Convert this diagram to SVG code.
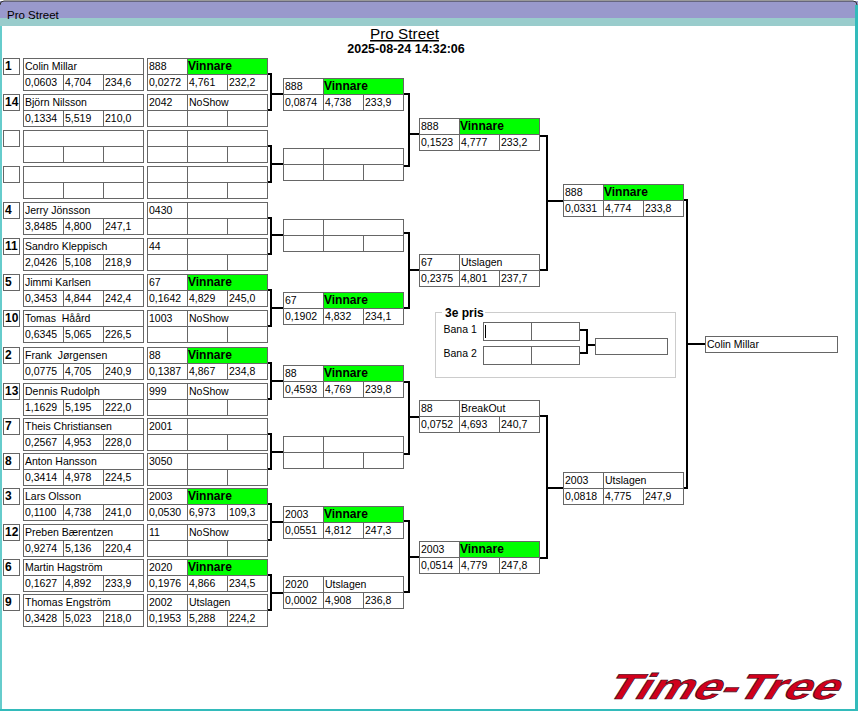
<svg xmlns="http://www.w3.org/2000/svg" width="858" height="711" viewBox="0 0 858 711">
<style>
text{font-family:"Liberation Sans",Arial,sans-serif;font-size:10.5px;fill:#000}
.b{font-weight:bold;font-size:12px}
.line{fill:none;stroke:#666;stroke-width:1}
.box{fill:none;stroke:#666;stroke-width:1}
.g{fill:#0f0}
#conn path{fill:none;stroke:#000;stroke-width:2}
</style>
<defs>
<g id="cm"><rect class="box" x=".5" y=".5" width="120" height="32"/><path class="line" d="M.5 16.5H120.5M40.5 16.5V32.5M80.5 16.5V32.5"/></g>
<g id="rs"><rect class="box" x=".5" y=".5" width="120" height="32"/><path class="line" d="M.5 16.5H120.5M40.5 .5V32.5M80.5 16.5V32.5"/></g>
<rect id="sd" class="box" x=".5" y=".5" width="16" height="16"/>
<rect id="gr" class="g" x="41" y="1" width="79" height="15"/>
</defs>
<rect width="858" height="711" fill="#fff"/>
<g id="window">
<rect x="0" y="1" width="858" height="17" fill="#9999cc"/>
<rect x="0" y="18" width="858" height="8" fill="#99cccc"/>
<path d="M0 5Q0 1 4 1H853Q857 1 857 5" fill="none" stroke="#333" stroke-width="1"/>
<rect x="0" y="26" width="2" height="685" fill="#66cccc"/>
<rect x="855" y="5" width="3" height="706" fill="#33bbbb"/>
<rect x="0" y="709" width="858" height="2" fill="#33bbbb"/>
<text x="7" y="19" style="font-size:11.5px">Pro Street</text>
</g>
<g id="title">
<text x="404.5" y="39" text-anchor="middle" style="font-size:15.3px;text-decoration:underline">Pro Street</text>
<text x="406" y="53" text-anchor="middle" style="font-size:12.5px;font-weight:bold">2025-08-24 14:32:06</text>
</g>
<g id="conn">
<path d="M268 74H271V110H268M271 94H283M268 146H271V182H268M271 164H283M268 218H271V254H268M271 235H283M268 290H271V326H268M271 308H283M268 363H271V399H268M271 381H283M268 434H271V469H268M271 452H283M268 504H271V540H268M271 522H283M268 575H271V610H268M271 593H283"/>
<path d="M404 94H409V166H404M409 134H419M404 233H409V308H404M409 270H419M404 382H409V454H404M409 417H419M404 521H409V592H404M409 557H419"/>
<path d="M540 136H547V270H540M547 201H563M540 416H547V558H540M547 488H563"/>
<path d="M684 200H687V488H684M687 344H705"/>
<path d="M580 330H587V353H580M587 345H595"/>
</g>
<g id="s1" transform="translate(3,58)"><use href="#sd"/><text class="b" x="2" y="12">1</text></g>
<g id="c1" transform="translate(23,58)"><use href="#cm"/><text x="2" y="12">Colin Millar</text><text x="2" y="28">0,0603</text><text x="42" y="28">4,704</text><text x="82" y="28">234,6</text></g>
<g id="r1" transform="translate(147,58)"><use href="#gr"/><use href="#rs"/><text x="2" y="12">888</text><text class="b" x="41" y="12">Vinnare</text><text x="2" y="28">0,0272</text><text x="42" y="28">4,761</text><text x="82" y="28">232,2</text></g>
<g id="s14" transform="translate(3,94)"><use href="#sd"/><text class="b" x="2" y="12">14</text></g>
<g id="c14" transform="translate(23,94)"><use href="#cm"/><text x="2" y="12">Björn Nilsson</text><text x="2" y="28">0,1334</text><text x="42" y="28">5,519</text><text x="82" y="28">210,0</text></g>
<g id="r14" transform="translate(147,94)"><use href="#rs"/><text x="2" y="12">2042</text><text x="42" y="12">NoShow</text></g>
<g id="sb1" transform="translate(3,130)"><use href="#sd"/></g>
<g id="cb1" transform="translate(23,130)"><use href="#cm"/></g>
<g id="rb1" transform="translate(147,130)"><use href="#rs"/></g>
<g id="sb2" transform="translate(3,166)"><use href="#sd"/></g>
<g id="cb2" transform="translate(23,166)"><use href="#cm"/></g>
<g id="rb2" transform="translate(147,166)"><use href="#rs"/></g>
<g id="s4" transform="translate(3,202)"><use href="#sd"/><text class="b" x="2" y="12">4</text></g>
<g id="c4" transform="translate(23,202)"><use href="#cm"/><text x="2" y="12">Jerry Jönsson</text><text x="2" y="28">3,8485</text><text x="42" y="28">4,800</text><text x="82" y="28">247,1</text></g>
<g id="r4" transform="translate(147,202)"><use href="#rs"/><text x="2" y="12">0430</text></g>
<g id="s11" transform="translate(3,238)"><use href="#sd"/><text class="b" x="2" y="12">11</text></g>
<g id="c11" transform="translate(23,238)"><use href="#cm"/><text x="2" y="12">Sandro Kleppisch</text><text x="2" y="28">2,0426</text><text x="42" y="28">5,108</text><text x="82" y="28">218,9</text></g>
<g id="r11" transform="translate(147,238)"><use href="#rs"/><text x="2" y="12">44</text></g>
<g id="s5" transform="translate(3,274)"><use href="#sd"/><text class="b" x="2" y="12">5</text></g>
<g id="c5" transform="translate(23,274)"><use href="#cm"/><text x="2" y="12">Jimmi Karlsen</text><text x="2" y="28">0,3453</text><text x="42" y="28">4,844</text><text x="82" y="28">242,4</text></g>
<g id="r5" transform="translate(147,274)"><use href="#gr"/><use href="#rs"/><text x="2" y="12">67</text><text class="b" x="41" y="12">Vinnare</text><text x="2" y="28">0,1642</text><text x="42" y="28">4,829</text><text x="82" y="28">245,0</text></g>
<g id="s10" transform="translate(3,310)"><use href="#sd"/><text class="b" x="2" y="12">10</text></g>
<g id="c10" transform="translate(23,310)"><use href="#cm"/><text x="2" y="12" xml:space="preserve">Tomas  Håård</text><text x="2" y="28">0,6345</text><text x="42" y="28">5,065</text><text x="82" y="28">226,5</text></g>
<g id="r10" transform="translate(147,310)"><use href="#rs"/><text x="2" y="12">1003</text><text x="42" y="12">NoShow</text></g>
<g id="s2" transform="translate(3,347)"><use href="#sd"/><text class="b" x="2" y="12">2</text></g>
<g id="c2" transform="translate(23,347)"><use href="#cm"/><text x="2" y="12" xml:space="preserve">Frank  Jørgensen</text><text x="2" y="28">0,0775</text><text x="42" y="28">4,705</text><text x="82" y="28">240,9</text></g>
<g id="r2" transform="translate(147,347)"><use href="#gr"/><use href="#rs"/><text x="2" y="12">88</text><text class="b" x="41" y="12">Vinnare</text><text x="2" y="28">0,1387</text><text x="42" y="28">4,867</text><text x="82" y="28">234,8</text></g>
<g id="s13" transform="translate(3,383)"><use href="#sd"/><text class="b" x="2" y="12">13</text></g>
<g id="c13" transform="translate(23,383)"><use href="#cm"/><text x="2" y="12">Dennis Rudolph</text><text x="2" y="28">1,1629</text><text x="42" y="28">5,195</text><text x="82" y="28">222,0</text></g>
<g id="r13" transform="translate(147,383)"><use href="#rs"/><text x="2" y="12">999</text><text x="42" y="12">NoShow</text></g>
<g id="s7" transform="translate(3,418)"><use href="#sd"/><text class="b" x="2" y="12">7</text></g>
<g id="c7" transform="translate(23,418)"><use href="#cm"/><text x="2" y="12">Theis Christiansen</text><text x="2" y="28">0,2567</text><text x="42" y="28">4,953</text><text x="82" y="28">228,0</text></g>
<g id="r7" transform="translate(147,418)"><use href="#rs"/><text x="2" y="12">2001</text></g>
<g id="s8" transform="translate(3,453)"><use href="#sd"/><text class="b" x="2" y="12">8</text></g>
<g id="c8" transform="translate(23,453)"><use href="#cm"/><text x="2" y="12">Anton Hansson</text><text x="2" y="28">0,3414</text><text x="42" y="28">4,978</text><text x="82" y="28">224,5</text></g>
<g id="r8" transform="translate(147,453)"><use href="#rs"/><text x="2" y="12">3050</text></g>
<g id="s3" transform="translate(3,488)"><use href="#sd"/><text class="b" x="2" y="12">3</text></g>
<g id="c3" transform="translate(23,488)"><use href="#cm"/><text x="2" y="12">Lars Olsson</text><text x="2" y="28">0,1100</text><text x="42" y="28">4,738</text><text x="82" y="28">241,0</text></g>
<g id="r3" transform="translate(147,488)"><use href="#gr"/><use href="#rs"/><text x="2" y="12">2003</text><text class="b" x="41" y="12">Vinnare</text><text x="2" y="28">0,0530</text><text x="42" y="28">6,973</text><text x="82" y="28">109,3</text></g>
<g id="s12" transform="translate(3,524)"><use href="#sd"/><text class="b" x="2" y="12">12</text></g>
<g id="c12" transform="translate(23,524)"><use href="#cm"/><text x="2" y="12">Preben Bærentzen</text><text x="2" y="28">0,9274</text><text x="42" y="28">5,136</text><text x="82" y="28">220,4</text></g>
<g id="r12" transform="translate(147,524)"><use href="#rs"/><text x="2" y="12">11</text><text x="42" y="12">NoShow</text></g>
<g id="s6" transform="translate(3,559)"><use href="#sd"/><text class="b" x="2" y="12">6</text></g>
<g id="c6" transform="translate(23,559)"><use href="#cm"/><text x="2" y="12">Martin Hagström</text><text x="2" y="28">0,1627</text><text x="42" y="28">4,892</text><text x="82" y="28">233,9</text></g>
<g id="r6" transform="translate(147,559)"><use href="#gr"/><use href="#rs"/><text x="2" y="12">2020</text><text class="b" x="41" y="12">Vinnare</text><text x="2" y="28">0,1976</text><text x="42" y="28">4,866</text><text x="82" y="28">234,5</text></g>
<g id="s9" transform="translate(3,594)"><use href="#sd"/><text class="b" x="2" y="12">9</text></g>
<g id="c9" transform="translate(23,594)"><use href="#cm"/><text x="2" y="12">Thomas Engström</text><text x="2" y="28">0,3428</text><text x="42" y="28">5,023</text><text x="82" y="28">218,0</text></g>
<g id="r9" transform="translate(147,594)"><use href="#rs"/><text x="2" y="12">2002</text><text x="42" y="12">Utslagen</text><text x="2" y="28">0,1953</text><text x="42" y="28">5,288</text><text x="82" y="28">224,2</text></g>
<g id="q1" transform="translate(283,78)"><use href="#gr"/><use href="#rs"/><text x="2" y="12">888</text><text class="b" x="41" y="12">Vinnare</text><text x="2" y="28">0,0874</text><text x="42" y="28">4,738</text><text x="82" y="28">233,9</text></g>
<g id="q2" transform="translate(283,148)"><use href="#rs"/></g>
<g id="q3" transform="translate(283,219)"><use href="#rs"/></g>
<g id="q4" transform="translate(283,292)"><use href="#gr"/><use href="#rs"/><text x="2" y="12">67</text><text class="b" x="41" y="12">Vinnare</text><text x="2" y="28">0,1902</text><text x="42" y="28">4,832</text><text x="82" y="28">234,1</text></g>
<g id="q5" transform="translate(283,365)"><use href="#gr"/><use href="#rs"/><text x="2" y="12">88</text><text class="b" x="41" y="12">Vinnare</text><text x="2" y="28">0,4593</text><text x="42" y="28">4,769</text><text x="82" y="28">239,8</text></g>
<g id="q6" transform="translate(283,436)"><use href="#rs"/></g>
<g id="q7" transform="translate(283,506)"><use href="#gr"/><use href="#rs"/><text x="2" y="12">2003</text><text class="b" x="41" y="12">Vinnare</text><text x="2" y="28">0,0551</text><text x="42" y="28">4,812</text><text x="82" y="28">247,3</text></g>
<g id="q8" transform="translate(283,576)"><use href="#rs"/><text x="2" y="12">2020</text><text x="42" y="12">Utslagen</text><text x="2" y="28">0,0002</text><text x="42" y="28">4,908</text><text x="82" y="28">236,8</text></g>
<g id="e1" transform="translate(419,118)"><use href="#gr"/><use href="#rs"/><text x="2" y="12">888</text><text class="b" x="41" y="12">Vinnare</text><text x="2" y="28">0,1523</text><text x="42" y="28">4,777</text><text x="82" y="28">233,2</text></g>
<g id="e2" transform="translate(419,254)"><use href="#rs"/><text x="2" y="12">67</text><text x="42" y="12">Utslagen</text><text x="2" y="28">0,2375</text><text x="42" y="28">4,801</text><text x="82" y="28">237,7</text></g>
<g id="e3" transform="translate(419,400)"><use href="#rs"/><text x="2" y="12">88</text><text x="42" y="12">BreakOut</text><text x="2" y="28">0,0752</text><text x="42" y="28">4,693</text><text x="82" y="28">240,7</text></g>
<g id="e4" transform="translate(419,541)"><use href="#gr"/><use href="#rs"/><text x="2" y="12">2003</text><text class="b" x="41" y="12">Vinnare</text><text x="2" y="28">0,0514</text><text x="42" y="28">4,779</text><text x="82" y="28">247,8</text></g>
<g id="f1" transform="translate(563,184)"><use href="#gr"/><use href="#rs"/><text x="2" y="12">888</text><text class="b" x="41" y="12">Vinnare</text><text x="2" y="28">0,0331</text><text x="42" y="28">4,774</text><text x="82" y="28">233,8</text></g>
<g id="f2" transform="translate(563,472)"><use href="#rs"/><text x="2" y="12">2003</text><text x="42" y="12">Utslagen</text><text x="2" y="28">0,0818</text><text x="42" y="28">4,775</text><text x="82" y="28">247,9</text></g>
<g id="winner" transform="translate(705,336)"><rect class="box" x=".5" y=".5" width="132" height="16"/><text x="2" y="12">Colin Millar</text></g>
<g id="third">
<rect x="435.5" y="312.5" width="240" height="65" fill="none" stroke="#ccc"/>
<rect x="442" y="308" width="43" height="10" fill="#fff"/>
<text class="b" x="445" y="317">3e pris</text>
<text x="443.5" y="333">Bana 1</text>
<text x="443.5" y="357">Bana 2</text>
</g>
<g id="b1"><rect class="box" x="483.5" y="322.5" width="96" height="18"/><path class="line" d="M531.5 322.5V340.5"/><path d="M485.5 325V338" stroke="#000" fill="none"/></g>
<g id="b2"><rect class="box" x="483.5" y="346.5" width="96" height="18"/><path class="line" d="M531.5 346.5V364.5"/></g>
<g id="b3"><rect class="box" x="595.5" y="338.5" width="72" height="16"/></g>
<g id="logo" transform="translate(603,699) skewX(-32)"><text x="0" y="0" textLength="232" lengthAdjust="spacingAndGlyphs" style="font-size:36px;font-weight:bold;fill:#d0001c;stroke:#40101c;stroke-width:.7">Time-Tree</text></g>
</svg>
